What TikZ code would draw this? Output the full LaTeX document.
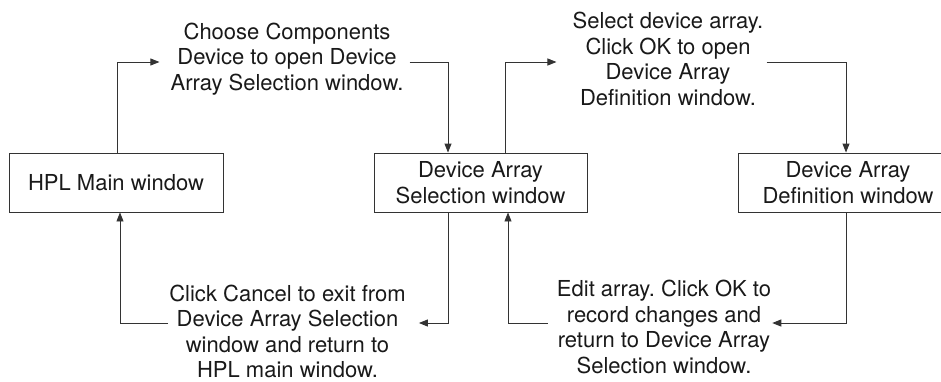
\documentclass[tikz,border=0pt]{standalone}
\usepackage{fontspec}
\setmainfont{TeX Gyre Heros}
\frenchspacing
\usetikzlibrary{arrows.meta}
\begin{document}
\begin{tikzpicture}[x=1pt,y=-1pt,
  box/.style={draw=black!80, line width=0.9pt, minimum height=59pt, inner sep=0pt, align=center,
    font=\fontsize{22}{25.5}\selectfont, text=black!90},
  lbl/.style={inner sep=0pt, align=center, font=\fontsize{22}{25.5}\selectfont, text=black!90},
  arr/.style={draw=black!80, line width=0.9pt, -{Triangle[length=9pt,width=7pt]}}]
\clip (0,0) rectangle (941,381);
\node[box, minimum width=214pt] (hpl) at (116,182.5) {HPL Main window};
\node[box, minimum width=213pt] (das) at (480.5,182.5) {Device Array\\Selection window};
\node[box, minimum width=220pt] (dad) at (848,182.5) {Device Array\\Definition window};

\node[lbl] (t1) at (287,59) {Choose Components\\Device to open Device\\Array Selection window.};
\node[lbl] (t2) at (668,59) {Select device array.\\Click OK to open\\Device Array\\Definition window.};
\node[lbl] (t3) at (287.5,331.5) {Click Cancel to exit from\\Device Array Selection\\window and return to\\HPL main window.};
\node[lbl] (t4) at (664,327) {Edit array. Click OK to\\record changes and\\return to Device Array\\Selection window.};

\draw[arr] ([xshift=1pt]hpl.north) |- ([xshift=-11pt,yshift=-3pt]t1.west);
\draw[arr] ([xshift=6pt,yshift=-3pt]t1.east) -| ([xshift=-32.5pt]das.north);
\draw[arr] ([xshift=24.5pt]das.north) |- ([xshift=-16pt,yshift=-3pt]t2.west);
\draw[arr] ([xshift=3pt,yshift=-3pt]t2.east) -| ([xshift=-2pt]dad.north);
\draw[arr] ([xshift=-2pt]dad.south) |- ([xshift=1pt,yshift=4pt]t4.east);
\draw[arr] ([xshift=-9pt,yshift=4pt]t4.west) -| ([xshift=27.5pt]das.south);
\draw[arr] ([xshift=-32.5pt]das.south) |- ([xshift=13pt,yshift=8.5pt]t3.east);
\draw[arr] ([xshift=-1pt,yshift=8.5pt]t3.west) -| ([xshift=4pt]hpl.south);
\end{tikzpicture}
\end{document}
